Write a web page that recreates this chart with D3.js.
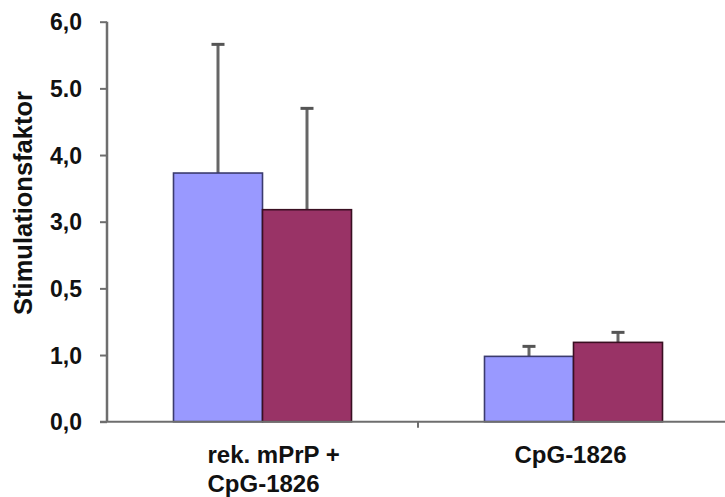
<!DOCTYPE html>
<html>
<head>
<meta charset="utf-8">
<script src="https://cdn.jsdelivr.net/npm/d3@7"></script>
<style>
  html, body { margin: 0; padding: 0; background: #fff; }
  svg { display: block; }
  text { font-family: "Liberation Sans", Arial, sans-serif; font-weight: bold; fill: #111; }
</style>
</head>
<body>
<svg id="chart" width="725" height="497"></svg>
<script>
// Stimulation factor per treatment, two series with upward SD whiskers
const categories = ["rek. mPrP + CpG-1826", "CpG-1826"];
const categoryLines = [["rek. mPrP +", "CpG-1826"], ["CpG-1826"]];
const seriesNames = ["A", "B"];
const seriesA = [3.73, 0.98];
const seriesB = [3.18, 1.19];
const errorA = [1.93, 0.15];
const errorB = [1.52, 0.15];
const yTickValues = [0, 1, 2, 3, 4, 5, 6];
const yTickLabels = ["0,0", "1,0", "0,5", "3,0", "4,0", "5.0", "6,0"];
const yTitle = "Stimulationsfaktor";

const colors = { A: "#9999ff", B: "#993366" };
const borders = { A: "#3b3b6e", B: "#3a0f22" };

const svg = d3.select("#chart");
const plotLeft = 107, plotRight = 729, plotTop = 21.7, plotBottom = 421.7;

const x = d3.scaleBand().domain(categories).range([plotLeft, plotRight]).padding(0);
const xs = d3.scaleBand().domain(seriesNames).range([0, 178]);
const y = d3.scaleLinear().domain([0, 6]).range([plotBottom, plotTop]);

const rows = categories.map((c, i) => ({
  cat: c,
  items: [
    { s: "A", v: seriesA[i], e: errorA[i] },
    { s: "B", v: seriesB[i], e: errorB[i] }
  ]
}));

const groups = svg.selectAll("g.grp").data(rows).join("g")
  .attr("class", "grp")
  .attr("transform", d => `translate(${x(d.cat) + x.bandwidth() / 2 - 89},0)`);

// error whiskers (behind bars)
groups.selectAll("g.err").data(d => d.items).join("g").attr("class", "err")
  .each(function (d) {
    const g = d3.select(this);
    const cx = xs(d.s) + xs.bandwidth() / 2;
    g.append("line").attr("x1", cx).attr("x2", cx)
      .attr("y1", y(d.v)).attr("y2", y(d.v + d.e))
      .attr("stroke", "#666").attr("stroke-width", 3);
    g.append("line").attr("x1", cx - 6.5).attr("x2", cx + 6.5)
      .attr("y1", y(d.v + d.e)).attr("y2", y(d.v + d.e))
      .attr("stroke", "#555").attr("stroke-width", 3);
  });

groups.selectAll("rect").data(d => d.items).join("rect")
  .attr("x", d => xs(d.s))
  .attr("width", xs.bandwidth())
  .attr("y", d => y(d.v))
  .attr("height", d => y(0) - y(d.v))
  .attr("fill", d => colors[d.s])
  .attr("stroke", d => borders[d.s])
  .attr("stroke-width", 1.6);

// y axis
const yAxis = d3.axisLeft(y).tickValues(yTickValues)
  .tickFormat((d, i) => yTickLabels[i]).tickSize(7).tickPadding(18);
const gy = svg.append("g").attr("transform", `translate(${plotLeft},0)`).call(yAxis);
gy.select(".domain").attr("stroke", "#6e6e6e").attr("stroke-width", 2.5)
  .attr("d", `M0,${plotTop}V${plotBottom}`);
gy.selectAll(".tick line").attr("stroke", "#6e6e6e").attr("stroke-width", 2);
gy.selectAll(".tick text").attr("font-size", 23).attr("font-family", "Liberation Sans, Arial, sans-serif")
  .attr("font-weight", "bold").attr("fill", "#111").attr("dy", "0.36em");

// x axis
const gx = svg.append("g").attr("transform", `translate(0,${plotBottom})`);
gx.append("line").attr("x1", plotLeft - 7).attr("x2", 725).attr("y1", 0).attr("y2", 0)
  .attr("stroke", "#6e6e6e").attr("stroke-width", 2);
gx.selectAll("line.sep").data(categories.slice(1)).join("line").attr("class", "sep")
  .attr("x1", d => x(d)).attr("x2", d => x(d)).attr("y1", 0).attr("y2", 6)
  .attr("stroke", "#6e6e6e").attr("stroke-width", 2);

// category labels
categories.forEach((c, i) => {
  const lines = categoryLines[i];
  const cx = x(c) + x.bandwidth() / 2;
  const lx = lines.length > 1 ? cx - 55 : cx - 3;
  const t = svg.append("text").attr("font-size", 24)
    .attr("text-anchor", lines.length > 1 ? "start" : "middle")
    .attr("x", lx)
    .attr("y", plotBottom + 41);
  lines.forEach((l, j) => t.append("tspan")
    .attr("x", lx)
    .attr("dy", j === 0 ? 0 : 29).text(l));
});

// y title
svg.append("text").attr("font-size", 25.5).attr("text-anchor", "middle")
  .attr("transform", `translate(32,203) rotate(-90)`).text(yTitle);
</script>
</body>
</html>
